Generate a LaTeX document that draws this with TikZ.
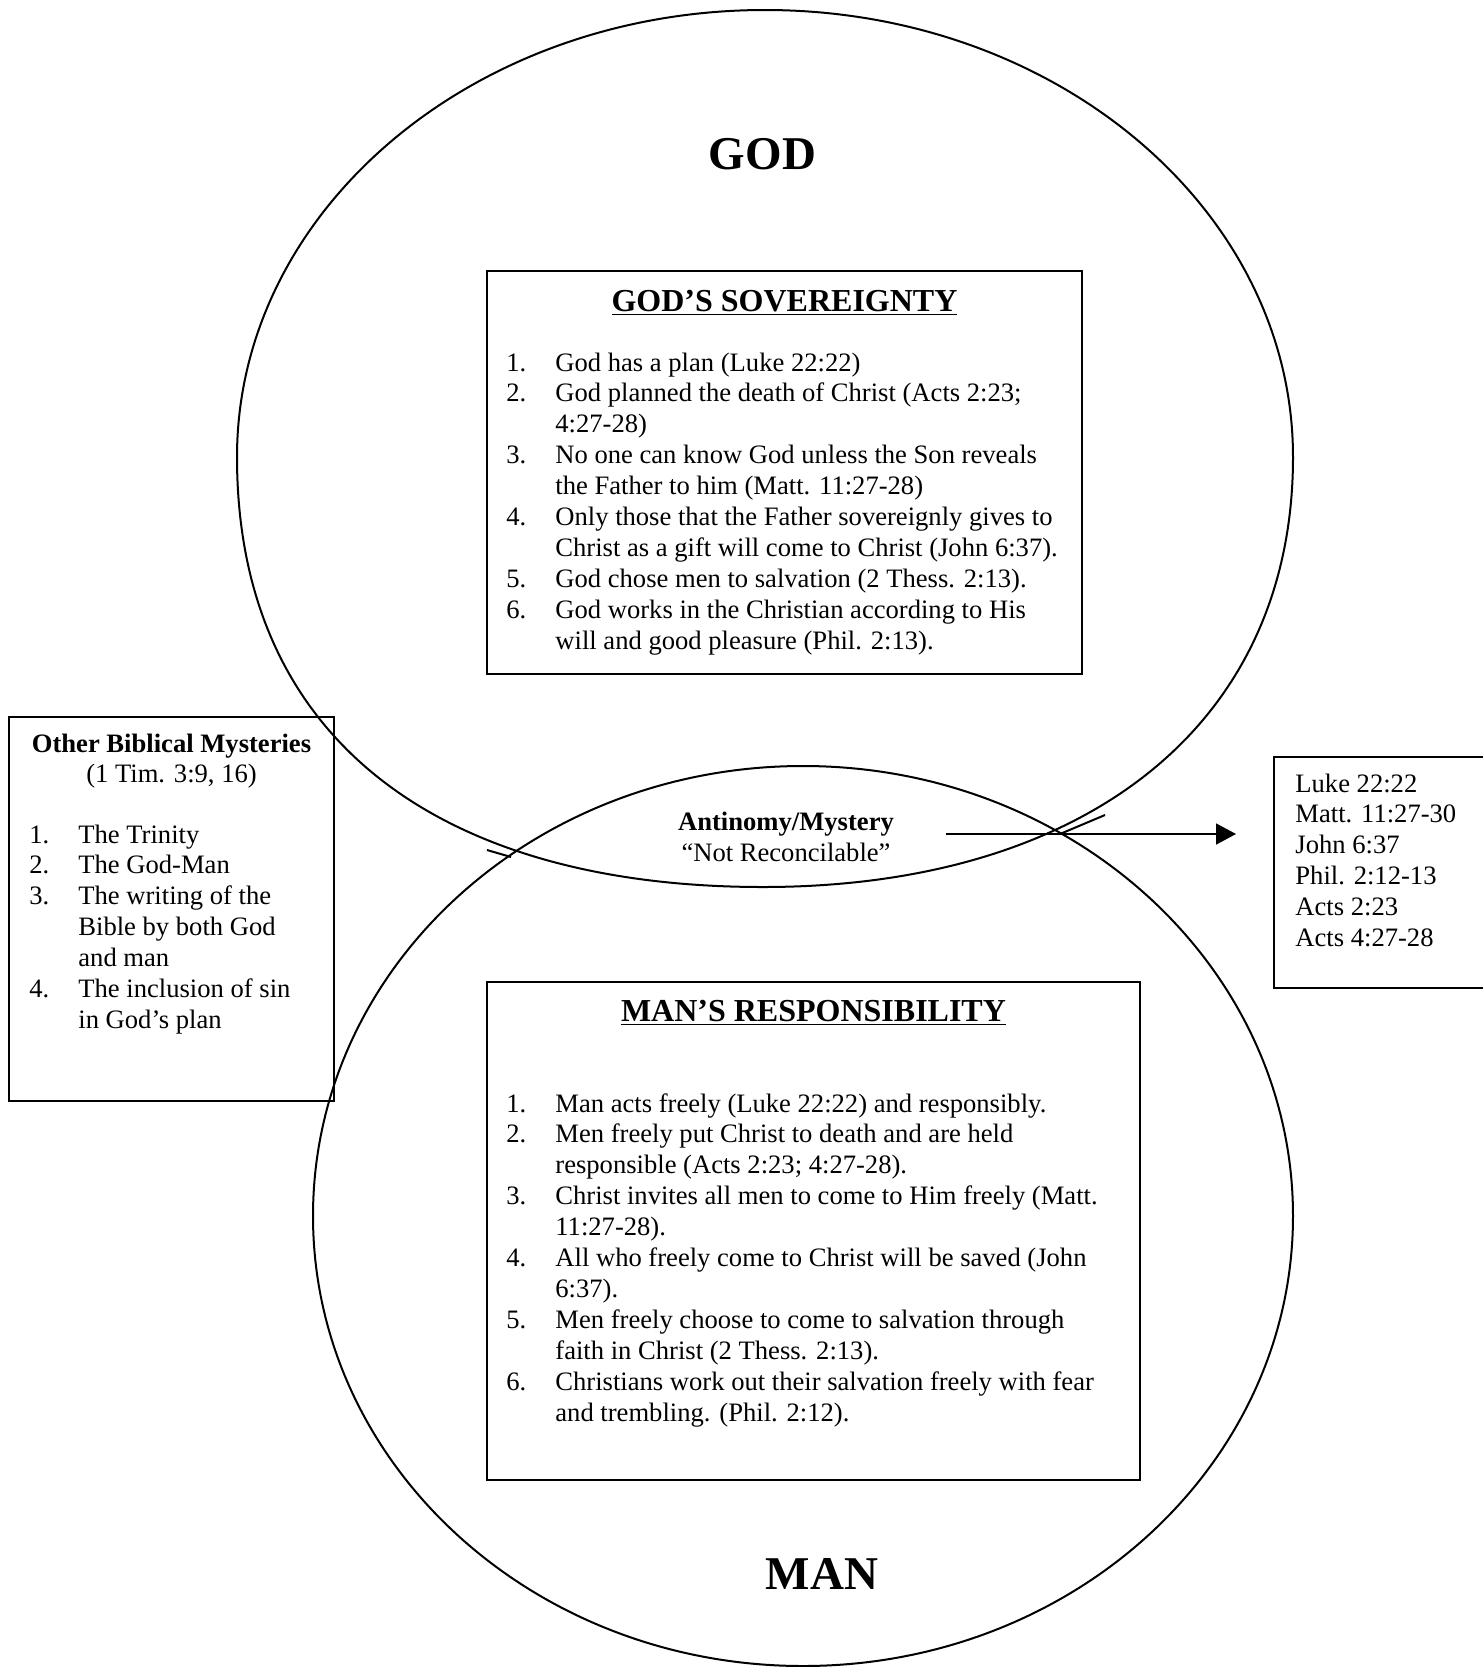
\documentclass[tikz,border=0pt]{standalone}
\usepackage{fontspec}
\setmainfont{Liberation Serif}
\usetikzlibrary{arrows.meta}
\newcommand\numcol[1]{\makebox[24.5pt][l]{#1}}
\begin{document}
\begin{tikzpicture}[x=0.5pt,y=-0.5pt,
  outline/.style={line width=1pt},
  boxline/.style={line width=1pt},
  txt/.style={inner sep=0pt, font=\fontsize{13.3}{15.45}\selectfont},
  btxt/.style={inner sep=0pt, font=\fontsize{13.3}{15.45}\selectfont\bfseries},
  ttl/.style={inner sep=0pt, font=\fontsize{16}{19}\selectfont\bfseries},
  big/.style={inner sep=0pt, font=\fontsize{23.5}{28}\selectfont\bfseries},
]
\useasboundingbox (0,0) rectangle (1483,1667);

% GOD outline (oval, fuller at the bottom)
\draw[outline] (237,457) arc[start angle=180, end angle=0, x radius=264pt, y radius=223.5pt]
  .. controls (1293,727) and (1083,887) .. (763,887)
  .. controls (443,887) and (237,742) .. (237,457) -- cycle;
\draw[outline] (487,850) -- (511,857);
\draw[outline] (1060,834) -- (1105,815);

% MAN outline
\draw[outline] (803,1216) ellipse [x radius=245pt, y radius=225pt];

% boxes
\draw[boxline] (487,271) rectangle (1082,674);
\draw[boxline] (487,982) rectangle (1140,1480);
\draw[boxline] (8.5,716.5) rectangle (334,1101);
\draw[boxline] (1483,757) -| (1274,988) -- (1483,988);

% big labels
\node[big, anchor=base] (god) at (762.5,169) {GOD};
\node[big, anchor=base] (man) at (822,1589) {MAN};

% God's sovereignty
\node[ttl, anchor=base] (sovT) at (784.5,311.5) {\underline{GOD’S SOVEREIGNTY}};
\node[txt, anchor=base west] (sovL) at (506,371) {\begin{tabular}[t]{@{}l@{}l@{}}
\numcol{1.} & God has a plan (Luke 22:22)\\
\numcol{2.} & God planned the death of Christ (Acts 2:23;\\
 & 4:27-28)\\
\numcol{3.} & No one can know God unless the Son reveals\\
 & the Father to him (Matt. 11:27-28)\\
\numcol{4.} & Only those that the Father sovereignly gives to\\
 & Christ as a gift will come to Christ (John 6:37).\\
\numcol{5.} & God chose men to salvation (2 Thess. 2:13).\\
\numcol{6.} & God works in the Christian according to His\\
 & will and good pleasure (Phil. 2:13).
\end{tabular}};

% Man's responsibility
\node[ttl, anchor=base] (resT) at (813.5,1021.5) {\underline{MAN’S RESPONSIBILITY}};
\node[txt, anchor=base west] (resL) at (506,1112) {\begin{tabular}[t]{@{}l@{}l@{}}
\numcol{1.} & Man acts freely (Luke 22:22) and responsibly.\\
\numcol{2.} & Men freely put Christ to death and are held\\
 & responsible (Acts 2:23; 4:27-28).\\
\numcol{3.} & Christ invites all men to come to Him freely (Matt.\\
 & 11:27-28).\\
\numcol{4.} & All who freely come to Christ will be saved (John\\
 & 6:37).\\
\numcol{5.} & Men freely choose to come to salvation through\\
 & faith in Christ (2 Thess. 2:13).\\
\numcol{6.} & Christians work out their salvation freely with fear\\
 & and trembling. (Phil. 2:12).
\end{tabular}};

% other mysteries
\node[btxt, anchor=base] (othT) at (171.5,752) {Other Biblical Mysteries};
\node[txt, anchor=base] (othR) at (171.5,782.5) {(1 Tim. 3:9, 16)};
\node[txt, anchor=base west] (othL) at (29,843) {\begin{tabular}[t]{@{}l@{}l@{}}
\numcol{1.} & The Trinity\\
\numcol{2.} & The God-Man\\
\numcol{3.} & The writing of the\\
 & Bible by both God\\
 & and man\\
\numcol{4.} & The inclusion of sin\\
 & in God’s plan
\end{tabular}};

% antinomy
\node[btxt, anchor=base] (antA) at (786,830) {Antinomy/Mystery};
\node[txt, anchor=base] (antB) at (786,861) {“Not Reconcilable”};

% references box
\node[txt, anchor=base west] (refs) at (1295,792) {\begin{tabular}[t]{@{}l@{}}
Luke 22:22\\
Matt. 11:27-30\\
John 6:37\\
Phil. 2:12-13\\
Acts 2:23\\
Acts 4:27-28
\end{tabular}};

% arrow
\coordinate (arrS) at (946,834);
\coordinate (arrE) at (1236,834);
\draw[line width=0.9pt, -{Triangle[length=10pt,width=10.5pt]}] (arrS) -- (arrE);
\end{tikzpicture}
\end{document}
